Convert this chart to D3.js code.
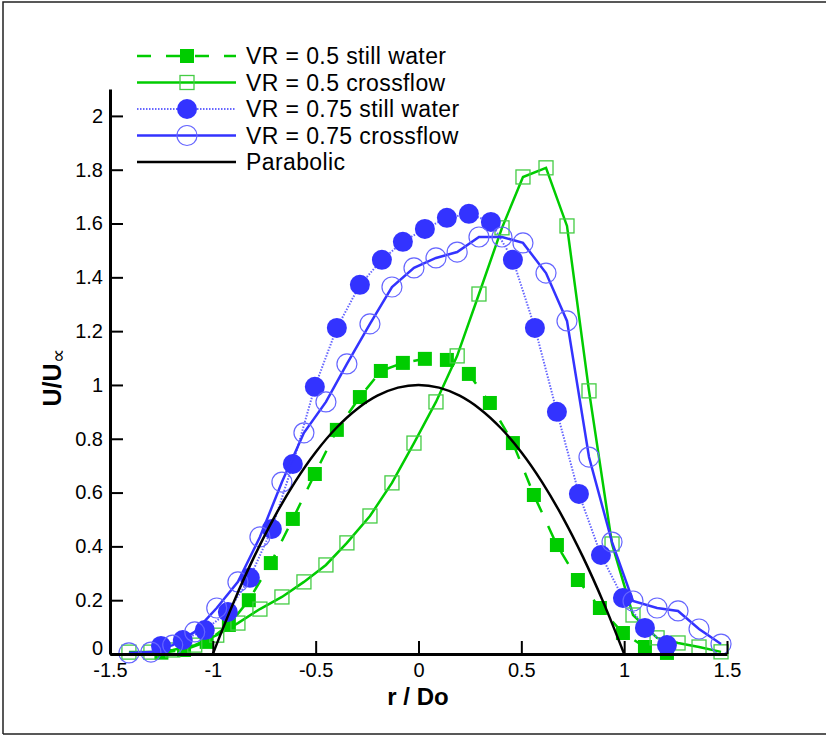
<!DOCTYPE html>
<html>
<head>
<meta charset="utf-8">
<script src="https://cdn.jsdelivr.net/npm/d3@7"></script>
<style>
  body { margin: 0; background: #fff; }
  text { font-family: "Liberation Sans", Arial, sans-serif; }
</style>
</head>
<body>
<svg id="chart" width="826" height="736"></svg>
<script>
// VR = 0.5 still water
var gsX = [-1.25, -1.14, -1.03, -0.922, -0.825, -0.718, -0.611, -0.504, -0.397, -0.285, -0.183, -0.076, 0.031, 0.138, 0.245, 0.347, 0.459, 0.561, 0.673, 0.775, 0.882, 0.994, 1.101, 1.208];
var gsY = [0.005, 0.015, 0.045, 0.108, 0.20, 0.338, 0.502, 0.669, 0.833, 0.955, 1.052, 1.082, 1.097, 1.093, 1.041, 0.933, 0.784, 0.591, 0.405, 0.275, 0.171, 0.078, 0.026, 0.004];
// crossflow stations (both VR)
var cfX = [-1.408, -1.301, -1.195, -1.088, -0.981, -0.878, -0.771, -0.664, -0.557, -0.450, -0.348, -0.236, -0.129, -0.022, 0.085, 0.188, 0.294, 0.406, 0.508, 0.620, 0.722, 0.829, 0.941, 1.043, 1.160, 1.262, 1.364, 1.471];
// VR = 0.5 crossflow
var gcY = [0.007, 0.007, 0.015, 0.033, 0.07, 0.115, 0.167, 0.212, 0.268, 0.331, 0.413, 0.513, 0.636, 0.784, 0.937, 1.108, 1.338, 1.584, 1.773, 1.807, 1.591, 0.978, 0.409, 0.145, 0.060, 0.041, 0.026, 0.008];
// VR = 0.75 still water
var bsX = [-1.252, -1.146, -1.039, -0.927, -0.820, -0.713, -0.611, -0.504, -0.397, -0.285, -0.178, -0.076, 0.031, 0.138, 0.245, 0.352, 0.459, 0.566, 0.673, 0.780, 0.887, 0.994, 1.101, 1.208];
var bsY = [0.03, 0.052, 0.089, 0.156, 0.283, 0.465, 0.706, 0.993, 1.212, 1.372, 1.465, 1.532, 1.580, 1.621, 1.636, 1.606, 1.465, 1.212, 0.900, 0.595, 0.368, 0.208, 0.097, 0.033];
// VR = 0.75 crossflow
var bcY = [0.004, 0.007, 0.033, 0.082, 0.171, 0.268, 0.435, 0.639, 0.822, 0.937, 1.078, 1.227, 1.364, 1.435, 1.472, 1.494, 1.550, 1.550, 1.528, 1.416, 1.238, 0.732, 0.416, 0.197, 0.171, 0.160, 0.093, 0.037];
// Parabolic
var pX = [-1, -0.9, -0.8, -0.7, -0.6, -0.5, -0.4, -0.3, -0.2, -0.1, 0, 0.1, 0.2, 0.3, 0.4, 0.5, 0.6, 0.7, 0.8, 0.9, 1];
var pY = [0, 0.19, 0.36, 0.51, 0.64, 0.75, 0.84, 0.91, 0.96, 0.99, 1, 0.99, 0.96, 0.91, 0.84, 0.75, 0.64, 0.51, 0.36, 0.19, 0];

var xTicks = [-1.5, -1, -0.5, 0, 0.5, 1, 1.5];
var yTicks = [0, 0.2, 0.4, 0.6, 0.8, 1, 1.2, 1.4, 1.6, 1.8, 2];
var legendNames = ["VR = 0.5 still water", "VR = 0.5 crossflow", "VR = 0.75 still water", "VR = 0.75 crossflow", "Parabolic"];

var svg = d3.select("#chart");
var green = "#00cc00", greenLt = "#44cc44", blue = "#3333ff", blueLt = "#6666ff";

var x = d3.scaleLinear().domain([-1.5, 1.5]).range([110, 727]);
var y = d3.scaleLinear().domain([0, 2.1]).range([654, 89]);

function pts(xs, ys) { return xs.map(function(v, i) { return [v, ys[i]]; }); }
var line = d3.line().x(function(d) { return x(d[0]); }).y(function(d) { return y(d[1]); });

// frame
svg.append("path").attr("d", "M3,734 L3,2 L826,2 M3,734 L826,734")
  .attr("fill", "none").attr("stroke", "#222").attr("stroke-width", 1.5);

var plot = svg.append("g");

// 0.5 still water
plot.append("path").datum(pts(gsX, gsY)).attr("d", line)
  .attr("fill", "none").attr("stroke", green).attr("stroke-width", 2.5).attr("stroke-dasharray", "14,15");
plot.selectAll(".gs").data(pts(gsX, gsY)).enter().append("rect")
  .attr("x", function(d) { return x(d[0]) - 7; }).attr("y", function(d) { return y(d[1]) - 7; })
  .attr("width", 14).attr("height", 14).attr("fill", green);

// 0.5 crossflow
plot.append("path").datum(pts(cfX, gcY)).attr("d", line)
  .attr("fill", "none").attr("stroke", green).attr("stroke-width", 2.5);
plot.selectAll(".gc").data(pts(cfX, gcY)).enter().append("rect")
  .attr("x", function(d) { return x(d[0]) - 7; }).attr("y", function(d) { return y(d[1]) - 7; })
  .attr("width", 14).attr("height", 14).attr("fill", "none").attr("stroke", greenLt).attr("stroke-width", 1.3);

// 0.75 still water
plot.append("path").datum(pts(bsX, bsY)).attr("d", line)
  .attr("fill", "none").attr("stroke", blueLt).attr("stroke-width", 2).attr("stroke-dasharray", "1.5,1.5");
plot.selectAll(".bs").data(pts(bsX, bsY)).enter().append("circle")
  .attr("cx", function(d) { return x(d[0]); }).attr("cy", function(d) { return y(d[1]); })
  .attr("r", 10).attr("fill", blue);

// 0.75 crossflow
plot.append("path").datum(pts(cfX, bcY)).attr("d", line)
  .attr("fill", "none").attr("stroke", blue).attr("stroke-width", 2.5);
plot.selectAll(".bc").data(pts(cfX, bcY)).enter().append("circle")
  .attr("cx", function(d) { return x(d[0]); }).attr("cy", function(d) { return y(d[1]); })
  .attr("r", 10).attr("fill", "none").attr("stroke", blueLt).attr("stroke-width", 1.2);

// parabolic
plot.append("path").datum(pts(pX, pY)).attr("d", line.curve(d3.curveCatmullRom))
  .attr("fill", "none").attr("stroke", "#000").attr("stroke-width", 2.5);

// axes
var fmt = function(d) { return String(d); };
var xMinor = d3.range(-15, 16).map(function(i) { return i / 10; });
var yMinor = d3.range(0, 43).map(function(i) { return i / 20; });

var gx = svg.append("g").attr("transform", "translate(0,654)");
gx.call(d3.axisBottom(x).tickValues(xMinor).tickSize(-7).tickSizeOuter(0).tickFormat(""));
gx.call(d3.axisBottom(x).tickValues(xTicks).tickSize(-13).tickSizeOuter(0).tickPadding(9).tickFormat(fmt));
var gy = svg.append("g").attr("transform", "translate(110,0)");
gy.call(d3.axisLeft(y).tickValues(yMinor).tickSize(-7).tickSizeOuter(0).tickFormat(""));
gy.call(d3.axisLeft(y).tickValues(yTicks).tickSize(-13).tickSizeOuter(0).tickPadding(7).tickFormat(fmt));
svg.selectAll(".domain").attr("stroke", "#000").attr("stroke-width", 3);
svg.selectAll(".tick line").attr("stroke", "#000").attr("stroke-width", 2);
svg.selectAll(".tick text").attr("fill", "#000").style("font-size", "20px").style("font-family", "Liberation Sans, Arial, sans-serif");
gy.select(".tick text").attr("dy", "0em");

// axis titles
svg.append("text").attr("x", 418).attr("y", 705).attr("text-anchor", "middle")
  .style("font-size", "24px").style("font-weight", "bold").text("r / Do");
var yl = svg.append("text").attr("transform", "translate(61,378) rotate(-90)").attr("text-anchor", "middle")
  .style("font-size", "25px").style("font-weight", "bold");
yl.append("tspan").text("U/U");
yl.append("tspan").attr("dy", 4).style("font-size", "20px").style("font-weight", "normal").text("\u221d");

// legend
var lg = svg.append("g");
var rowY = function(i) { return 56 + i * 26.5; };
var styles = [
  {stroke: green, w: 2.5, dash: "14,15", sym: "fsq"},
  {stroke: green, w: 2.5, dash: null, sym: "osq"},
  {stroke: blueLt, w: 2, dash: "1.5,1.5", sym: "fci"},
  {stroke: blue, w: 2.5, dash: null, sym: "oci"},
  {stroke: "#000", w: 2.5, dash: null, sym: null}
];
legendNames.forEach(function(name, i) {
  var s = styles[i], cy = rowY(i);
  lg.append("line").attr("x1", 137).attr("x2", 236).attr("y1", cy).attr("y2", cy)
    .attr("stroke", s.stroke).attr("stroke-width", s.w).attr("stroke-dasharray", s.dash);
  if (s.sym == "fsq") lg.append("rect").attr("x", 180).attr("y", cy - 7).attr("width", 14).attr("height", 14).attr("fill", green);
  if (s.sym == "osq") lg.append("rect").attr("x", 180).attr("y", cy - 7).attr("width", 14).attr("height", 14).attr("fill", "none").attr("stroke", greenLt).attr("stroke-width", 1.3);
  if (s.sym == "fci") lg.append("circle").attr("cx", 187).attr("cy", cy).attr("r", 10).attr("fill", blue);
  if (s.sym == "oci") lg.append("circle").attr("cx", 187).attr("cy", cy).attr("r", 10).attr("fill", "none").attr("stroke", blueLt).attr("stroke-width", 1.2);
  lg.append("text").attr("x", 246).attr("y", cy + 8).style("font-size", "23px").style("letter-spacing", "0.4px").text(name);
});
</script>
</body>
</html>
